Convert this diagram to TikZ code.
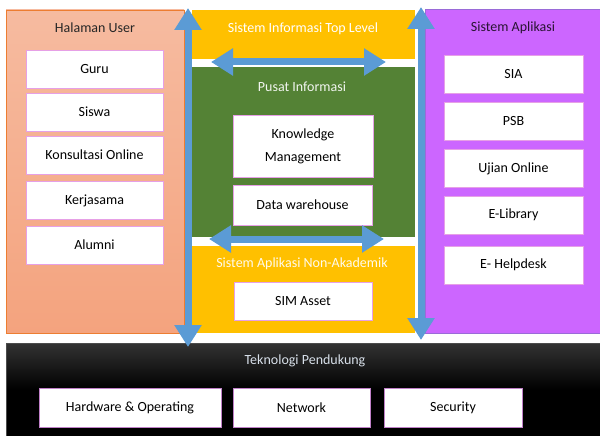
\documentclass[tikz,border=0pt]{standalone}
\usepackage{fontspec}
\setmainfont{Carlito}
\usetikzlibrary{arrows.meta}
\definecolor{salmonA}{HTML}{F6BBA0}
\definecolor{salmonB}{HTML}{F4A37E}
\definecolor{orangeB}{HTML}{ED7D31}
\definecolor{yel}{HTML}{FFC000}
\definecolor{grn}{HTML}{548235}
\definecolor{purp}{HTML}{CC66FF}
\definecolor{purpB}{HTML}{9A6BD8}
\definecolor{arrowblue}{HTML}{5B9BD5}
\definecolor{boxborder}{HTML}{E6A0E6}
\definecolor{boxborderB}{HTML}{C080C8}
\definecolor{greytxt}{HTML}{D8E0EA}
\tikzset{
  panel/.style={inner sep=0, outer sep=0},
  box/.style={draw=boxborder, fill=white, line width=0.9pt, minimum width=137pt, minimum height=38pt,
    inner sep=0, align=center, font=\fontsize{14}{17}\selectfont},
  title/.style={font=\fontsize{14}{17}\selectfont, inner sep=0},
  dblarrow/.style={arrowblue, line width=7pt, {Triangle[width=26pt,length=22pt]}-{Triangle[width=26pt,length=22pt]}}
}
\begin{document}
\begin{tikzpicture}[x=1pt,y=-1pt]
\useasboundingbox (0,0) rectangle (600,436);
% panels
\node[panel, draw=orangeB, line width=0.8pt, top color=salmonA, bottom color=salmonB, minimum width=178pt, minimum height=323pt] (user) at (95,171.5) {};
\node[panel, fill=yel, minimum width=223pt, minimum height=49pt] (top) at (303.5,34.5) {};
\node[panel, fill=grn, minimum width=223pt, minimum height=170pt] (pusat) at (303.5,152) {};
\node[panel, fill=yel, minimum width=223pt, minimum height=87pt] (nonak) at (303.5,289.5) {};
\node[panel, fill=purp, draw=purpB, line width=0.8pt, minimum width=176pt, minimum height=324pt] (apl) at (513,171) {};
\node[panel, draw=black!70, line width=0.8pt, top color=black!80, bottom color=black, middle color=black, minimum width=594pt, minimum height=93pt] (tek) at (303,389.5) {};
% titles
\node[title, text=black!85] (tuser) at (95,28) {Halaman User};
\node[title, text=white] (ttop) at (303,29) {Sistem Informasi Top Level};
\node[title, text=white!92!grn] (tpusat) at (302,87) {Pusat Informasi};
\node[title, text=white!92!yel] (tnonak) at (302,264) {Sistem Aplikasi Non-Akademik};
\node[title, text=black!80!purp] (tapl) at (513,28) {Sistem Aplikasi};
\node[title, text=greytxt] (ttek) at (305,361) {Teknologi Pendukung};
% left boxes
\node[box] (guru) at (94.5,69) {Guru};
\node[box] (siswa) at (94.5,112) {Siswa};
\node[box] (konsul) at (94.5,155) {Konsultasi Online};
\node[box] (kerja) at (94.5,200.5) {Kerjasama};
\node[box] (alumni) at (94.5,245) {Alumni};
% middle boxes
\node[box, minimum width=140pt, minimum height=62pt, font=\fontsize{14}{23}\selectfont] (km) at (303,146) {Knowledge\\Management};
\node[box, minimum width=139pt, minimum height=40pt] (dw) at (302.5,205) {Data warehouse};
\node[box, minimum width=138pt] (sim) at (303,301) {SIM Asset};
% right boxes
\node[box, minimum width=139pt] (sia) at (513.5,74) {SIA};
\node[box, minimum width=139pt] (psb) at (513.5,121.5) {PSB};
\node[box, minimum width=139pt] (ujian) at (513.5,168.5) {Ujian Online};
\node[box, minimum width=139pt] (elib) at (513.5,215) {E-Library};
\node[box, minimum width=139pt] (ehelp) at (513.5,265) {E- Helpdesk};
% bottom boxes
\node[box, draw=boxborderB, minimum width=182pt, minimum height=39pt] (hw) at (130,407.5) {Hardware \& Operating};
\node[box, draw=boxborderB, minimum width=137pt, minimum height=39pt] (net) at (301.5,407.5) {Network};
\node[box, draw=boxborderB, minimum width=138pt, minimum height=39pt] (sec) at (453,407.5) {Security};
% arrows
\coordinate (vlA) at (188,8);
\coordinate (vlB) at (188,347);
\coordinate (vrA) at (421,7);
\coordinate (vrB) at (421,340);
\coordinate (htA) at (211,62);
\coordinate (htB) at (386,62);
\coordinate (hbA) at (209,239);
\coordinate (hbB) at (384,239);
\draw[dblarrow] (vlA) -- (vlB);
\draw[dblarrow] (vrA) -- (vrB);
\draw[dblarrow] (htA) -- (htB);
\draw[dblarrow] (hbA) -- (hbB);
\end{tikzpicture}
\end{document}
